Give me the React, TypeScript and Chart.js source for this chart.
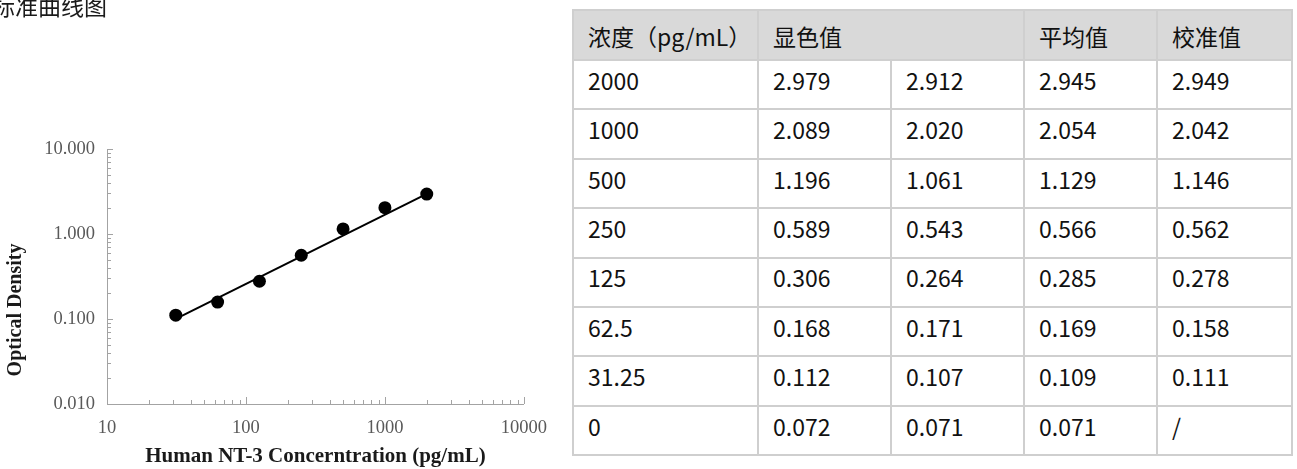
import React, { useEffect, useRef } from "react";
import { Chart, registerables } from "chart.js";

Chart.register(...registerables);

// ---- data ----
const pageTitle = "标准曲线图";
const headerLabels = ["浓度（pg/mL）", "显色值", "平均值", "校准值"];
const concentrations = ["2000", "1000", "500", "250", "125", "62.5", "31.25", "0"];
const od1 = ["2.979", "2.089", "1.196", "0.589", "0.306", "0.168", "0.112", "0.072"];
const od2 = ["2.912", "2.020", "1.061", "0.543", "0.264", "0.171", "0.107", "0.071"];
const meanOD = ["2.945", "2.054", "1.129", "0.566", "0.285", "0.169", "0.109", "0.071"];
const calibrated = ["2.949", "2.042", "1.146", "0.562", "0.278", "0.158", "0.111", "/"];

const xTickValues = [10, 100, 1000, 10000];
const yTickValues = [0.01, 0.1, 1, 10];
const fitX = [31.25, 2000];
const fitY = [0.1005, 2.97];

const xTitle = "Human NT-3 Concerntration (pg/mL)";
const yTitle = "Optical Density";

// ---- styles ----
const axisColor = "#a3a3a3";
const tickLabelColor = "#595959";
const titleColor = "#1a1a1a";
const serif = '"Liberation Serif", "Times New Roman", serif';
const cjk = '"Noto Sans CJK SC", "Noto Sans", sans-serif';

const points = concentrations
  .map((c, i) => ({ x: Number(c), y: parseFloat(calibrated[i]) }))
  .filter((p) => p.x > 0 && Number.isFinite(p.y));
const fitLine = fitX.map((x, i) => ({ x, y: fitY[i] }));

const logTicksPlugin = {
  id: "logTicksAndTitle",
  afterDraw(chart: any) {
    const { ctx, chartArea, scales } = chart;
    const xs = scales.x;
    const ys = scales.y;
    ctx.save();
    ctx.strokeStyle = axisColor;
    ctx.lineWidth = 1;
    ctx.beginPath();
    const e0x = Math.round(Math.log10(xs.min));
    const e1x = Math.round(Math.log10(xs.max));
    for (let e = e0x; e <= e1x; e++) {
      const base = Math.pow(10, e);
      for (let k = 1; k <= 9; k++) {
        if (e === e1x && k > 1) break;
        const px = Math.round(xs.getPixelForValue(base * k)) + 0.5;
        const len = k === 1 ? 7 : 4;
        ctx.moveTo(px, chartArea.bottom);
        ctx.lineTo(px, chartArea.bottom - len);
      }
    }
    const e0y = Math.round(Math.log10(ys.min));
    const e1y = Math.round(Math.log10(ys.max));
    for (let e = e0y; e <= e1y; e++) {
      const base = Math.pow(10, e);
      for (let k = 1; k <= 9; k++) {
        if (e === e1y && k > 1) break;
        const py = Math.round(ys.getPixelForValue(base * k)) + 0.5;
        const len = k === 1 ? 6 : 4;
        ctx.moveTo(chartArea.left, py);
        ctx.lineTo(chartArea.left + len, py);
      }
    }
    ctx.stroke();

    // y axis title (offset below the axis centre as in the reference)
    ctx.translate(16, chartArea.bottom - 94);
    ctx.rotate(-Math.PI / 2);
    ctx.font = `bold 20px ${serif}`;
    ctx.fillStyle = titleColor;
    ctx.textAlign = "center";
    ctx.textBaseline = "middle";
    ctx.fillText(yTitle, 0, 0);
    ctx.restore();
  },
};

function StandardCurve() {
  const ref = useRef<HTMLCanvasElement | null>(null);
  useEffect(() => {
    if (!ref.current) return;
    const chart = new Chart(ref.current, {
      type: "scatter",
      data: {
        datasets: [
          {
            label: "points",
            data: points,
            pointRadius: 6.5,
            pointHoverRadius: 6.5,
            pointBackgroundColor: "#000",
            pointBorderColor: "#000",
            pointBorderWidth: 0,
            showLine: false,
          },
          {
            label: "fit",
            data: fitLine,
            showLine: true,
            borderColor: "#000",
            borderWidth: 2,
            pointRadius: 0,
          },
        ],
      },
      options: {
        animation: false,
        responsive: false,
        devicePixelRatio: 1,
        layout: { padding: { left: 0, right: 35, top: 149, bottom: 0 } },
        plugins: { legend: { display: false }, tooltip: { enabled: false }, title: { display: false } },
        scales: {
          x: {
            type: "logarithmic",
            position: "bottom",
            min: 10,
            max: 10000,
            afterBuildTicks: (s: any) => {
              s.ticks = xTickValues.map((v) => ({ value: v }));
            },
            afterFit: (s: any) => {
              s.height = 65;
            },
            grid: { display: true, drawOnChartArea: false, drawTicks: false },
            border: { display: true, color: axisColor, width: 1 },
            ticks: {
              color: tickLabelColor,
              font: { family: serif, size: 18.5 },
              padding: 13,
              maxRotation: 0,
              autoSkip: false,
              callback: (v: any) => String(v),
            },
            title: {
              display: true,
              text: xTitle,
              color: titleColor,
              font: { family: serif, size: 21, weight: "bold" },
              padding: { top: 0, bottom: 0 },
            },
          },
          y: {
            type: "logarithmic",
            position: "left",
            min: 0.01,
            max: 10,
            afterBuildTicks: (s: any) => {
              s.ticks = yTickValues.map((v) => ({ value: v }));
            },
            afterFit: (s: any) => {
              s.width = 107;
            },
            grid: { display: true, drawOnChartArea: false, drawTicks: false },
            border: { display: true, color: axisColor, width: 1 },
            ticks: {
              color: tickLabelColor,
              font: { family: serif, size: 18.5 },
              padding: 12,
              autoSkip: false,
              callback: (v: any) => Number(v).toFixed(3),
            },
          },
        },
      },
      plugins: [logTicksPlugin],
    } as any);
    return () => chart.destroy();
  }, []);
  return (
    <canvas
      ref={ref}
      width={560}
      height={469}
      style={{ position: "absolute", left: 0, top: 0, width: 560, height: 469 }}
    />
  );
}

const cellBorder = "2px solid #cfcfcf";
const textColor = "#111";

function DataTable() {
  const colWidths = [185, 133, 133, 133, 135];
  const tdBase: React.CSSProperties = {
    border: cellBorder,
    whiteSpace: "nowrap",
    color: textColor,
    overflow: "hidden",
  };
  const thStyle: React.CSSProperties = {
    ...tdBase,
    background: "#d9d9d9",
    fontWeight: 400,
    textAlign: "left",
    padding: "3px 2px 0 14px",
  };
  const rows = concentrations.map((c, i) => [c, od1[i], od2[i], meanOD[i], calibrated[i]]);
  return (
    <table
      style={{
        position: "absolute",
        left: 572,
        top: 9,
        width: 721,
        borderCollapse: "collapse",
        tableLayout: "fixed",
        fontFamily: cjk,
        fontSize: 23,
        lineHeight: 1.2,
      }}
    >
      <colgroup>
        {colWidths.map((w, i) => (
          <col key={i} style={{ width: w }} />
        ))}
      </colgroup>
      <thead>
        <tr style={{ height: 50 }}>
          <th style={thStyle}>{headerLabels[0]}</th>
          <th colSpan={2} style={thStyle}>
            {headerLabels[1]}
          </th>
          <th style={thStyle}>{headerLabels[2]}</th>
          <th style={thStyle}>{headerLabels[3]}</th>
        </tr>
      </thead>
      <tbody>
        {rows.map((r, i) => (
          <tr key={i} style={{ height: 49.4 }}>
            {r.map((v, j) => (
              <td key={j} style={{ ...tdBase, padding: "0 2px 8px 14px", verticalAlign: "middle" }}>
                {v}
              </td>
            ))}
          </tr>
        ))}
      </tbody>
    </table>
  );
}

export default function App() {
  return (
    <div
      style={{
        position: "fixed",
        left: 0,
        top: 0,
        width: 1297,
        height: 469,
        overflow: "hidden",
        background: "#fff",
      }}
    >
      <StandardCurve />
      <div
        style={{
          position: "absolute",
          left: -8,
          top: -6,
          fontFamily: cjk,
          fontSize: 23,
          lineHeight: "23px",
          color: titleColor,
          whiteSpace: "nowrap",
        }}
      >
        {pageTitle}
      </div>
      <DataTable />
    </div>
  );
}
